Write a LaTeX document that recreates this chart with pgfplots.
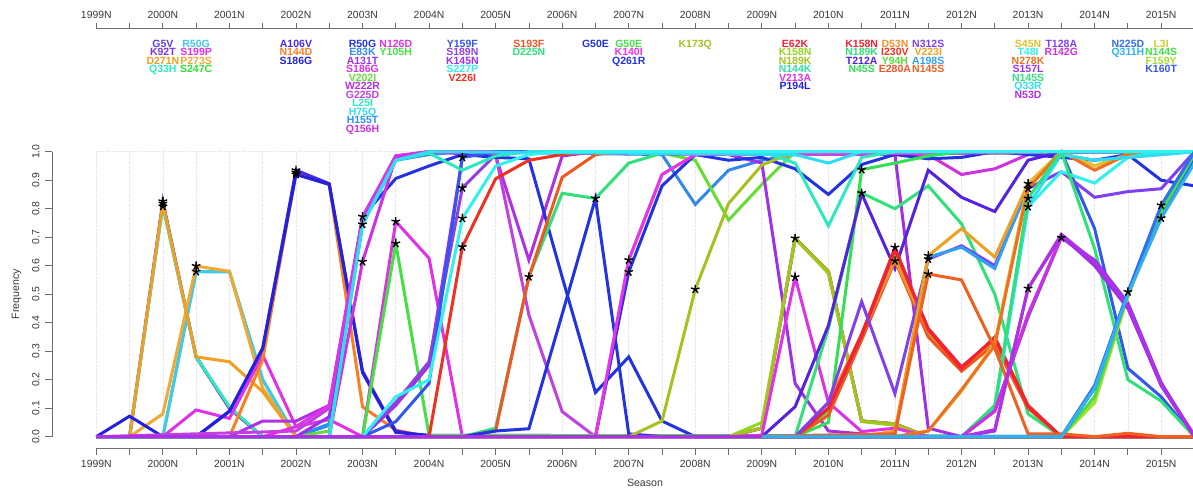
\documentclass[border=0pt]{standalone}
\usepackage{fontspec}
\setmainfont{Liberation Sans}
\usepackage{pgfplots}
\pgfplotsset{compat=1.18}

\definecolor{axc}{HTML}{6E6E6E}
\definecolor{txc}{HTML}{383838}
\definecolor{gridc}{HTML}{E2E2E2}
\definecolor{vioa}{HTML}{5A3EE8}
\definecolor{viob}{HTML}{7A35E0}
\definecolor{oraa}{HTML}{F0A020}
\definecolor{aquaa}{HTML}{2EE8C0}
\definecolor{cyana}{HTML}{40C8F0}
\definecolor{maga}{HTML}{E030E8}
\definecolor{orab}{HTML}{F0A838}
\definecolor{grna}{HTML}{30E030}
\definecolor{inda}{HTML}{4A28E8}
\definecolor{orac}{HTML}{F88020}
\definecolor{blua}{HTML}{2222DD}
\definecolor{blub}{HTML}{2233E0}
\definecolor{dblua}{HTML}{3388EE}
\definecolor{pura}{HTML}{A030E8}
\definecolor{ygrna}{HTML}{66DD33}
\definecolor{purb}{HTML}{B030E8}
\definecolor{purc}{HTML}{C040E0}
\definecolor{cyanb}{HTML}{30DCF0}
\definecolor{dblub}{HTML}{2A90F0}
\definecolor{magb}{HTML}{D030E0}
\definecolor{grnb}{HTML}{44E044}
\definecolor{bluc}{HTML}{3355F0}
\definecolor{purd}{HTML}{9040E0}
\definecolor{cyanc}{HTML}{30F0F0}
\definecolor{reda}{HTML}{F03020}
\definecolor{redb}{HTML}{F05522}
\definecolor{sgrn}{HTML}{30E078}
\definecolor{magc}{HTML}{F030F0}
\definecolor{olive}{HTML}{A8C020}
\definecolor{redc}{HTML}{F02233}
\definecolor{lime}{HTML}{90D820}
\definecolor{aquab}{HTML}{30E0A0}
\definecolor{indb}{HTML}{5522E0}
\definecolor{grnc}{HTML}{33E055}
\definecolor{orad}{HTML}{F09030}
\definecolor{lgrn}{HTML}{55E033}
\definecolor{vioc}{HTML}{8040F0}
\definecolor{skya}{HTML}{30A0F0}
\definecolor{orae}{HTML}{F06020}
\definecolor{golda}{HTML}{E0C030}
\definecolor{oraf}{HTML}{F07020}
\definecolor{blud}{HTML}{3070F0}
\definecolor{skyb}{HTML}{30B0F0}
\definecolor{goldb}{HTML}{D0D030}
\definecolor{ygrnb}{HTML}{A0E030}

\newcommand{\tkfont}{\fontsize{10.4}{12}\selectfont}
\newcommand{\labfont}{\fontsize{10.5}{10.5}\selectfont\bfseries}
\newcommand{\ser}[2]{\addplot[no marks, line width=3pt, color=#1] coordinates {#2};}
\newcommand{\lab}[4]{\node[font=\labfont, text=#4, inner sep=0pt, anchor=base] at (axis cs:#1,#2) {#3};}

\begin{document}
\begin{tikzpicture}[x=1pt,y=1pt]
\useasboundingbox (0,0) rectangle (1193,492);

% ---------- main plot ----------
\begin{axis}[
  at={(96.3pt,43.9pt)}, anchor=south west, scale only axis,
  width=1098.1pt, height=307.8pt,
  xmin=1999, xmax=2015.5, ymin=-0.04, ymax=1.04,
  axis x line*=bottom, axis y line=none,
  x axis line style={-, draw=axc, line width=0.8pt},
  xtick={1999,1999.5,2000,2000.5,2001,2001.5,2002,2002.5,2003,2003.5,2004,2004.5,2005,2005.5,2006,2006.5,2007,2007.5,2008,2008.5,2009,2009.5,2010,2010.5,2011,2011.5,2012,2012.5,2013,2013.5,2014,2014.5,2015,2015.5},
  xticklabels={1999N,,2000N,,2001N,,2002N,,2003N,,2004N,,2005N,,2006N,,2007N,,2008N,,2009N,,2010N,,2011N,,2012N,,2013N,,2014N,,2015N,},
  tick align=outside, major tick length=7pt,
  tick style={draw=axc, line width=0.8pt},
  xticklabel style={font=\tkfont, text=txc, yshift=-1.5pt},
  clip=false,
]
% grid
\addplot[ycomb, no marks, densely dotted, color=gridc, line width=0.7pt] coordinates {(1999,1)(1999.5,1)(2000,1)(2000.5,1)(2001,1)(2001.5,1)(2002,1)(2002.5,1)(2003,1)(2003.5,1)(2004,1)(2004.5,1)(2005,1)(2005.5,1)(2006,1)(2006.5,1)(2007,1)(2007.5,1)(2008,1)(2008.5,1)(2009,1)(2009.5,1)(2010,1)(2010.5,1)(2011,1)(2011.5,1)(2012,1)(2012.5,1)(2013,1)(2013.5,1)(2014,1)(2014.5,1)(2015,1)(2015.5,1)};
\addplot[no marks, densely dotted, color=gridc, line width=0.7pt] coordinates {(1999,1)(2015.5,1)};

% 2000N / 2000S
\ser{vioa}{(1999,0)(1999.5,0)(2000,0.826)(2000.5,0.28)(2001,0.1)(2001.5,0)(2015.5,0)}
\ser{viob}{(1999,0)(1999.5,0)(2000,0.818)(2000.5,0.28)(2001,0.1)(2001.5,0)(2015.5,0)}
\ser{aquaa}{(1999,0)(1999.5,0)(2000,0.808)(2000.5,0.28)(2001,0.105)(2001.5,0)(2015.5,0)}
\ser{grna}{(1999,0)(2000,0)(2000.5,0.579)(2001,0.58)(2001.5,0.2)(2002,0)(2015.5,0)}
\ser{cyana}{(1999,0)(2000,0)(2000.5,0.579)(2001,0.578)(2001.5,0.2)(2002,0)(2015.5,0)}
\ser{orab}{(1999,0)(1999.5,0)(2000,0.08)(2000.5,0.599)(2001,0.58)(2001.5,0.17)(2002,0)(2015.5,0)}
\ser{oraa}{(1999,0)(1999.5,0)(2000,0.82)(2000.5,0.28)(2001,0.263)(2001.5,0.158)(2002,0)(2015.5,0)}
\ser{maga}{(1999,0)(2000,0)(2000.5,0.094)(2001,0.064)(2001.5,0.287)(2002,0.035)(2002.5,0.06)(2003,0)(2015.5,0)}
% 2002N
\ser{orac}{(1999,0)(2001,0)(2001.5,0.27)(2002,0.927)(2002.5,0.885)(2003,0.105)(2003.5,0.023)(2004,0)(2015.5,0)}
\ser{inda}{(1999,0)(2000.5,0)(2001,0.088)(2001.5,0.31)(2002,0.935)(2002.5,0.888)(2003,0.23)(2003.5,0.02)(2004,0)(2015.5,0)}
\ser{blua}{(1999,0)(1999.5,0.072)(2000,0)(2000.5,0)(2001,0.09)(2001.5,0.31)(2002,0.92)(2002.5,0.885)(2003,0.225)(2003.5,0.015)(2004,0.005)(2015.5,0)}
% 2003N
\ser{dblua}{(1999,0)(2002,0)(2002.5,0.04)(2003,0.745)(2003.5,0.97)(2004,0.99)(2004.5,1)(2007.5,0.99)(2008,0.815)(2008.5,0.935)(2009,0.97)(2009.5,0.99)(2015.5,1)}
\ser{dblub}{(1999,0)(2002,0)(2002.5,0.045)(2003,0.75)(2003.5,0.975)(2004,1)(2015.5,1)}
\ser{ygrna}{(1999,0)(2002,0)(2002.5,0.02)(2003,0.75)(2003.5,0.98)(2004,1)(2007.5,0.995)(2008,0.97)(2008.5,0.76)(2009,0.885)(2009.5,1)(2015.5,1)}
\ser{pura}{(1999,0)(2002,0)(2002.5,0.07)(2003,0.76)(2003.5,0.98)(2004,1)(2008.5,0.99)(2009,0.96)(2009.5,0.187)(2010,0.02)(2010.5,0.01)(2011,0)(2015.5,0)}
\ser{purb}{(1999,0)(2001,0)(2001.5,0.055)(2002,0.055)(2002.5,0.11)(2003,0.765)(2003.5,0.985)(2004,1)(2005,0.985)(2005.5,0.62)(2006,0.985)(2006.5,1)(2015.5,1)}
\ser{purc}{(1999,0)(2002,0.02)(2002.5,0.1)(2003,0.765)(2003.5,0.985)(2004,1)(2005,0.99)(2005.5,0.427)(2006,0.088)(2006.5,0)(2015.5,0)}
\ser{blub}{(1999,0)(2002.5,0)(2003,0.772)(2003.5,0.906)(2004,0.95)(2004.5,0.99)(2005,0.98)(2005.5,0.975)(2006,0.56)(2006.5,0.155)(2007,0.28)(2007.5,0.055)(2008,0)(2015.5,0)}
\ser{maga}{(1999,0)(2001.5,0)(2002,0.035)(2002.5,0.11)(2003,0.772)(2003.5,0.985)(2004,1)(2015.5,1)}
\ser{magb}{(1999,0)(2002.5,0)(2003,0.614)(2003.5,0.98)(2004,1)(2011.5,0.99)(2012,0.92)(2012.5,0.94)(2013,0.99)(2013.5,1)(2015.5,1)}
% 2003S
\ser{maga}{(1999,0)(2003,0)(2003.5,0.755)(2004,0.626)(2004.5,0)(2015.5,0)}
\ser{grnb}{(1999,0)(2003,0)(2003.5,0.678)(2004,0.005)(2015.5,0)}
% 2004S
\ser{reda}{(1999,0)(2004,0)(2004.5,0.666)(2005,0.905)(2005.5,0.97)(2006,0.99)(2006.5,1)(2015.5,1)}
\ser{pura}{(1999,0)(2003,0)(2003.5,0.11)(2004,0.25)(2004.5,0.98)(2005,1)(2011,0.99)(2011.5,0.03)(2012,0)(2015.5,0)}
\ser{purd}{(1999,0)(2003,0)(2003.5,0.12)(2004,0.263)(2004.5,0.873)(2005,0.99)(2005.5,1)(2015.5,1)}
\ser{bluc}{(1999,0)(2003,0)(2003.5,0.053)(2004,0.187)(2004.5,0.98)(2005,1)(2013.5,1)(2014,0.73)(2014.5,0.24)(2015,0.14)(2015.5,0)}
% 2005S
\ser{sgrn}{(1999,0)(2004.5,0)(2005,0.03)(2005.5,0.561)(2006,0.854)(2006.5,0.836)(2007,0.96)(2007.5,0.995)(2008,1)(2015.5,1)}
\ser{redb}{(1999,0)(2004.5,0)(2005,0.02)(2005.5,0.561)(2006,0.91)(2006.5,0.99)(2007,1)(2015.5,1)}
% 2006S
\ser{blub}{(1999,0)(2004.5,0)(2005,0.02)(2005.5,0.028)(2006,0.43)(2006.5,0.836)(2007,0.01)(2007.5,0)(2015.5,0)}
% 2007N
\ser{grnb}{(1999,0)(2006.5,0)(2007,0.62)(2007.5,0.92)(2008,0.99)(2015.5,1)}
\ser{blub}{(1999,0)(2006.5,0)(2007,0.578)(2007.5,0.88)(2008,0.99)(2008.5,0.97)(2009,0.98)(2009.5,0.94)(2010,0.85)(2010.5,0.955)(2011,0.99)(2011.5,0.975)(2012,0.98)(2012.5,1)(2014,0.97)(2014.5,0.99)(2015,0.9)(2015.5,0.88)}
\ser{magc}{(1999,0)(2006.5,0)(2007,0.62)(2007.5,0.92)(2008,0.99)(2015.5,1)}
% 2008N
\ser{olive}{(1999,0)(2007,0)(2007.5,0.055)(2008,0.517)(2008.5,0.818)(2009,0.953)(2009.5,1)(2015.5,1)}
% 2009S
\ser{blua}{(2008.5,0)(2009,0.03)(2009.5,0.696)(2010,0.58)(2010.5,0.055)(2011,0.045)(2011.5,0)(2015.5,0)}
\ser{aquab}{(2008.5,0)(2009,0.03)(2009.5,0.696)(2010,0.58)(2010.5,0.055)(2011,0.045)(2011.5,0)(2015.5,0)}
\ser{redc}{(2008.5,0)(2009,0.03)(2009.5,0.696)(2010,0.58)(2010.5,0.055)(2011,0.045)(2011.5,0)(2015.5,0)}
\ser{lime}{(2008.5,0)(2009,0.05)(2009.5,0.696)(2010,0.573)(2010.5,0.053)(2011,0.04)(2011.5,0)(2015.5,0)}
\ser{olive}{(2008.5,0)(2009,0.03)(2009.5,0.696)(2010,0.58)(2010.5,0.055)(2011,0.045)(2011.5,0)(2015.5,0)}
\ser{maga}{(2008.5,0)(2009,0.005)(2009.5,0.56)(2010,0.12)(2010.5,0.018)(2011,0.03)(2011.5,0)(2015.5,0)}
% 2010S
\ser{grnc}{(2008.5,0)(2009.5,0)(2010,0.05)(2010.5,0.937)(2011,0.96)(2011.5,0.985)(2012,1)(2015.5,1)}
\ser{sgrn}{(2008.5,0)(2009.5,0)(2010,0.38)(2010.5,0.855)(2011,0.8)(2011.5,0.88)(2012,0.747)(2012.5,0.5)(2013,0.08)(2013.5,0)(2015.5,0)}
\ser{indb}{(2008.5,0)(2009,0)(2009.5,0.105)(2010,0.39)(2010.5,0.853)(2011,0.59)(2011.5,0.935)(2012,0.84)(2012.5,0.79)(2013,0.97)(2013.5,1)(2015.5,1)}
% 2011N
\ser{lgrn}{(2008.5,0)(2009.5,0)(2010,0.09)(2010.5,0.35)(2011,0.63)(2011.5,0.36)(2012,0.235)(2012.5,0.33)(2013,0.1)(2013.5,0)(2015.5,0)}
\ser{redb}{(2008.5,0)(2009.5,0)(2010,0.075)(2010.5,0.34)(2011,0.617)(2011.5,0.35)(2012,0.23)(2012.5,0.325)(2013,0.1)(2013.5,0)(2015.5,0)}
\ser{orad}{(2008.5,0)(2009.5,0)(2010,0.12)(2010.5,0.36)(2011,0.62)(2011.5,0.37)(2012,0.24)(2012.5,0.34)(2013,0.105)(2013.5,0)(2015.5,0)}
\ser{reda}{(2008.5,0)(2009.5,0)(2010,0.1)(2010.5,0.36)(2011,0.664)(2011.5,0.375)(2012,0.237)(2012.5,0.35)(2013,0.11)(2013.5,0)(2015.5,0)}
\ser{redc}{(2008.5,0)(2009.5,0)(2010,0.1)(2010.5,0.355)(2011,0.655)(2011.5,0.38)(2012,0.245)(2012.5,0.345)(2013,0.105)(2013.5,0)(2015.5,0)}
% 2011S
\ser{vioc}{(2008.5,0)(2009.5,0)(2010,0.12)(2010.5,0.474)(2011,0.151)(2011.5,0.623)(2012,0.67)(2012.5,0.6)(2013,0.871)(2013.5,0.93)(2014,0.84)(2014.5,0.86)(2015,0.87)(2015.5,1)}
\ser{skya}{(2008.5,0)(2010.5,0)(2011,0.01)(2011.5,0.63)(2012,0.665)(2012.5,0.59)(2013,0.88)(2013.5,0.99)(2014,0.97)(2015.5,1)}
\ser{oraa}{(2008.5,0)(2010.5,0)(2011,0.02)(2011.5,0.635)(2012,0.73)(2012.5,0.63)(2013,0.888)(2013.5,1)(2014,0.95)(2014.5,0.99)(2015,1)(2015.5,1)}
% 2013N / 2013S
\ser{golda}{(2008.5,0)(2011,0)(2011.5,0.02)(2012,0.16)(2012.5,0.33)(2013,0.888)(2013.5,1)(2014,0.95)(2014.5,0.99)(2015.5,1)}
\ser{oraf}{(2008.5,0)(2011,0)(2011.5,0.02)(2012,0.165)(2012.5,0.32)(2013,0.871)(2013.5,1)(2014,0.935)(2014.5,0.99)(2015,1)(2015.5,1)}
\ser{cyanc}{(2008.5,0)(2012,0)(2012.5,0.1)(2013,0.807)(2013.5,0.93)(2014,0.89)(2014.5,0.98)(2015,1)(2015.5,1)}
\ser{cyanb}{(2008.5,0)(2012,0)(2012.5,0.1)(2013,0.81)(2013.5,0.99)(2014,0.97)(2015.5,1)}
\ser{sgrn}{(2008.5,0)(2012,0)(2012.5,0.11)(2013,0.836)(2013.5,1)(2014,0.66)(2014.5,0.2)(2015,0.125)(2015.5,0)}
\ser{vioc}{(2008.5,0)(2012,0)(2012.5,0.09)(2013,0.42)(2013.5,0.698)(2014,0.62)(2014.5,0.47)(2015,0.19)(2015.5,0)}
\ser{magb}{(2008.5,0)(2012,0)(2012.5,0.09)(2013,0.43)(2013.5,0.7)(2014,0.61)(2014.5,0.46)(2015,0.18)(2015.5,0)}
% 2015N
\ser{goldb}{(2008.5,0)(2013.5,0)(2014,0.12)(2014.5,0.49)(2015,0.79)(2015.5,1)}
\ser{ygrnb}{(2008.5,0)(2013.5,0)(2014,0.12)(2014.5,0.5)(2015,0.78)(2015.5,1)}
\ser{grnb}{(2008.5,0)(2013.5,0)(2014,0.14)(2014.5,0.5)(2015,0.79)(2015.5,0.99)}
\ser{bluc}{(2008.5,0)(2013.5,0)(2014,0.17)(2014.5,0.505)(2015,0.767)(2015.5,0.97)}
% cyan overlays (2003N, 2004S)
\ser{aquaa}{(1999,0)(2002.5,0)(2003,0.745)(2003.5,0.97)(2004,0.995)(2004.5,0.935)(2005,0.985)(2005.5,1)(2009,1)(2009.5,0.96)(2010,0.74)(2010.5,0.98)(2011,1)(2015.5,1)}
\ser{cyanb}{(1999,0)(2002.5,0)(2003,0.745)(2003.5,0.97)(2004,1)(2009.5,0.99)(2010,0.96)(2010.5,1)(2015.5,1)}
\ser{cyanc}{(1999,0)(2003,0)(2003.5,0.14)(2004,0.2)(2004.5,0.766)(2005,0.95)(2005.5,0.99)(2006,1)(2015.5,1)}
% late series
\ser{orae}{(2008.5,0)(2011,0.01)(2011.5,0.571)(2012,0.55)(2012.5,0.31)(2013,0.01)(2013.5,0.01)(2014,0)(2014.5,0.012)(2015,0)(2015.5,0)}
\ser{pura}{(1999,0)(2012,0)(2012.5,0.02)(2013,0.52)(2013.5,0.705)(2014,0.6)(2014.5,0.45)(2015,0.18)(2015.5,0)}
\ser{purb}{(1999,0)(2012,0)(2012.5,0.025)(2013,0.52)(2013.5,0.71)(2014,0.615)(2014.5,0.46)(2015,0.185)(2015.5,0.005)}
\ser{blud}{(2009,0)(2013.5,0)(2014,0.18)(2014.5,0.508)(2015,0.812)(2015.5,1)}
\ser{skyb}{(2009,0)(2013.5,0)(2014,0.17)(2014.5,0.5)(2015,0.767)(2015.5,0.96)}

% stars
\addplot[only marks, mark=star, mark size=4.5pt, mark options={black, line width=1.4pt}] coordinates {
(2000,0.826)(2000,0.818)(2000,0.808)(2000.5,0.599)(2000.5,0.579)
(2002,0.935)(2002,0.927)(2002,0.92)
(2003,0.772)(2003,0.745)(2003,0.614)(2003.5,0.755)(2003.5,0.678)
(2004.5,0.98)(2004.5,0.873)(2004.5,0.766)(2004.5,0.666)
(2005.5,0.561)(2006.5,0.836)(2007,0.62)(2007,0.578)(2008,0.517)
(2009.5,0.696)(2009.5,0.56)(2010.5,0.937)(2010.5,0.855)
(2011,0.664)(2011,0.617)(2011.5,0.635)(2011.5,0.623)(2011.5,0.571)
(2013,0.888)(2013,0.871)(2013,0.836)(2013,0.807)(2013,0.52)
(2013.5,0.698)(2014.5,0.508)(2015,0.812)(2015,0.767)};

% mutation labels
\lab{2000}{1.3672}{G5V}{vioa}
\lab{2000}{1.3374}{K92T}{viob}
\lab{2000}{1.3076}{D271N}{oraa}
\lab{2000}{1.2777}{Q33H}{aquaa}
\lab{2000.5}{1.3672}{R50G}{cyana}
\lab{2000.5}{1.3374}{S199P}{maga}
\lab{2000.5}{1.3076}{P273S}{orab}
\lab{2000.5}{1.2777}{S247C}{grna}
\lab{2002}{1.3672}{A106V}{inda}
\lab{2002}{1.3374}{N144D}{orac}
\lab{2002}{1.3076}{S186G}{blua}
\lab{2003}{1.3672}{R50G}{blub}
\lab{2003}{1.3374}{E83K}{dblua}
\lab{2003}{1.3076}{A131T}{pura}
\lab{2003}{1.2777}{S186G}{maga}
\lab{2003}{1.2479}{V202I}{ygrna}
\lab{2003}{1.2181}{W222R}{purb}
\lab{2003}{1.1882}{G225D}{purc}
\lab{2003}{1.1584}{L25I}{aquaa}
\lab{2003}{1.1286}{H75Q}{cyanb}
\lab{2003}{1.0988}{H155T}{dblub}
\lab{2003}{1.0689}{Q156H}{magb}
\lab{2003.5}{1.3672}{N126D}{maga}
\lab{2003.5}{1.3374}{Y105H}{grnb}
\lab{2004.5}{1.3672}{Y159F}{bluc}
\lab{2004.5}{1.3374}{S189N}{purd}
\lab{2004.5}{1.3076}{K145N}{pura}
\lab{2004.5}{1.2777}{S227P}{cyanc}
\lab{2004.5}{1.2479}{V226I}{reda}
\lab{2005.5}{1.3672}{S193F}{redb}
\lab{2005.5}{1.3374}{D225N}{sgrn}
\lab{2006.5}{1.3672}{G50E}{blub}
\lab{2007}{1.3672}{G50E}{grnb}
\lab{2007}{1.3374}{K140I}{magc}
\lab{2007}{1.3076}{Q261R}{blub}
\lab{2008}{1.3672}{K173Q}{olive}
\lab{2009.5}{1.3672}{E62K}{redc}
\lab{2009.5}{1.3374}{K158N}{lime}
\lab{2009.5}{1.3076}{N189K}{olive}
\lab{2009.5}{1.2777}{N144K}{aquab}
\lab{2009.5}{1.2479}{V213A}{maga}
\lab{2009.5}{1.2181}{P194L}{blua}
\lab{2010.5}{1.3672}{K158N}{redc}
\lab{2010.5}{1.3374}{N189K}{sgrn}
\lab{2010.5}{1.3076}{T212A}{indb}
\lab{2010.5}{1.2777}{N45S}{grnc}
\lab{2011}{1.3672}{D53N}{orad}
\lab{2011}{1.3374}{I230V}{reda}
\lab{2011}{1.3076}{Y94H}{lgrn}
\lab{2011}{1.2777}{E280A}{redb}
\lab{2011.5}{1.3672}{N312S}{vioc}
\lab{2011.5}{1.3374}{V223I}{oraa}
\lab{2011.5}{1.3076}{A198S}{skya}
\lab{2011.5}{1.2777}{N145S}{orae}
\lab{2013}{1.3672}{S45N}{golda}
\lab{2013}{1.3374}{T48I}{cyanc}
\lab{2013}{1.3076}{N278K}{oraf}
\lab{2013}{1.2777}{S157L}{pura}
\lab{2013}{1.2479}{N145S}{sgrn}
\lab{2013}{1.2181}{Q33R}{cyanb}
\lab{2013}{1.1882}{N53D}{purb}
\lab{2013.5}{1.3672}{T128A}{vioc}
\lab{2013.5}{1.3374}{R142G}{magb}
\lab{2014.5}{1.3672}{N225D}{blud}
\lab{2014.5}{1.3374}{Q311H}{skyb}
\lab{2015}{1.3672}{L3I}{goldb}
\lab{2015}{1.3374}{N144S}{grnb}
\lab{2015}{1.3076}{F159Y}{ygrnb}
\lab{2015}{1.2777}{K160T}{bluc}
\end{axis}

% ---------- y axis ----------
\begin{axis}[
  at={(52pt,55.3pt)}, anchor=south west, scale only axis,
  width=20pt, height=285pt,
  xmin=0, xmax=1, ymin=0, ymax=1,
  axis y line*=left, axis x line=none,
  y axis line style={-, draw=axc, line width=0.8pt},
  ytick={0,0.1,0.2,0.3,0.4,0.5,0.6,0.7,0.8,0.9,1},
  yticklabels={0.0,0.1,0.2,0.3,0.4,0.5,0.6,0.7,0.8,0.9,1.0},
  tick align=outside, major tick length=7pt,
  tick style={draw=axc, line width=0.8pt},
  yticklabel shift=2pt,
  yticklabel style={rotate=90, anchor=south, font=\tkfont, text=txc},
]
\addplot[draw=none, forget plot] coordinates {(0,0)};
\end{axis}

% ---------- top axis ----------
\begin{axis}[
  at={(96.3pt,462.7pt)}, anchor=south west, scale only axis,
  width=1098.1pt, height=1pt,
  xmin=1999, xmax=2015.5, ymin=0, ymax=1,
  axis x line*=top, axis y line=none,
  x axis line style={-, draw=axc, line width=0.8pt},
  xtick={1999,1999.5,2000,2000.5,2001,2001.5,2002,2002.5,2003,2003.5,2004,2004.5,2005,2005.5,2006,2006.5,2007,2007.5,2008,2008.5,2009,2009.5,2010,2010.5,2011,2011.5,2012,2012.5,2013,2013.5,2014,2014.5,2015,2015.5},
  xticklabels={1999N,,2000N,,2001N,,2002N,,2003N,,2004N,,2005N,,2006N,,2007N,,2008N,,2009N,,2010N,,2011N,,2012N,,2013N,,2014N,,2015N,},
  tick align=outside, major tick length=5.6pt,
  tick style={draw=axc, line width=0.8pt},
  xticklabel style={font=\tkfont, text=txc, yshift=1pt},
]
\addplot[draw=none, forget plot] coordinates {(2000,0)};
\end{axis}

\node[font=\fontsize{10.6}{12}\selectfont, text=txc] at (645,9) {Season};
\node[font=\fontsize{10.6}{12}\selectfont, text=txc, rotate=90] at (16.7,197.8) {Frequency};
\end{tikzpicture}
\end{document}
